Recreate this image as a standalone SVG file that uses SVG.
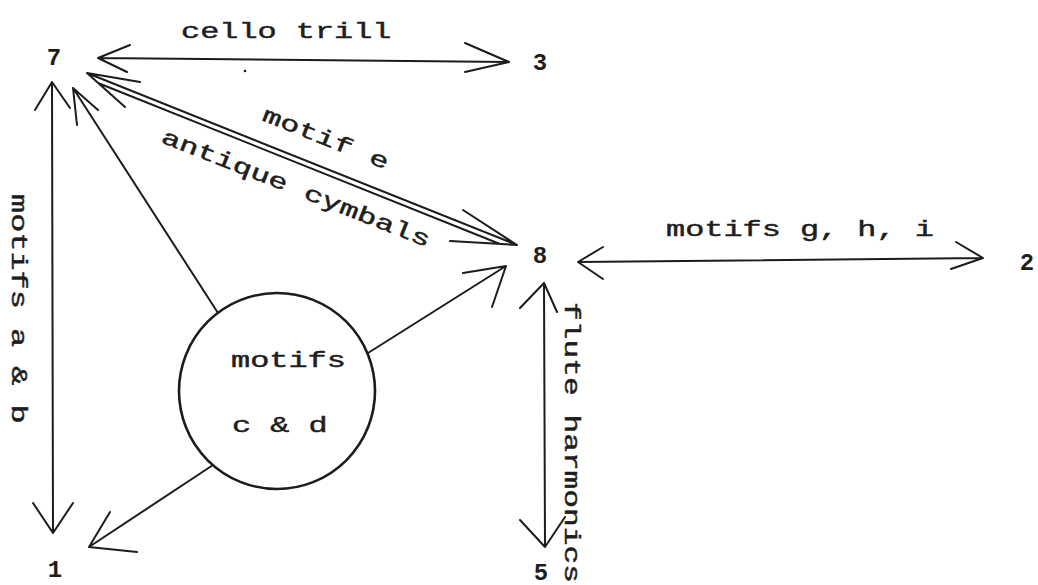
<svg xmlns="http://www.w3.org/2000/svg" width="1038" height="585" viewBox="0 0 1038 585">
  <style>
    .bg { fill: #ffffff; }
    .ln { fill: none; stroke: #1c1c1c; stroke-width: 2; stroke-linecap: round; stroke-linejoin: round; }
    .ring { fill: #ffffff; stroke: #1c1c1c; stroke-width: 2.6; }
    .lbl { font-family: "Liberation Mono", "DejaVu Sans Mono", monospace; font-size: 22px; fill: #1e1e1e; stroke: #1e1e1e; stroke-width: 0.45; }
    .num { font-family: "Liberation Mono", "DejaVu Sans Mono", monospace; font-size: 24px; font-weight: bold; fill: #1e1e1e; text-anchor: middle; }
  </style>
  <rect class="bg" x="0" y="0" width="1038" height="585"/>

  <!-- arrows between the numbered sections -->
  <g id="connectors">
    <!-- 7 <-> 3 : cello trill -->
    <path class="ln" d="M98,58 L509,62 M130,45 L98,58 L127,72 M465,43 L509,62 L465,72"/>
    <circle cx="245" cy="71" r="1.3" fill="#1c1c1c"/>
    <!-- 7 <-> 8 : double shaft -->
    <path class="ln" d="M87,73 L517,245 M98,83 L500,244 M140,82 L87,73 L125,107 M463,210 L517,245 L450,241"/>
    <!-- 7 <-> 1 : motifs a & b -->
    <path class="ln" d="M52,82 L53,533 M35,110 L52,82 L70,108 M33,503 L53,533 L73,503"/>
    <!-- circle -> 7 -->
    <path class="ln" d="M218,313 L73,88 M77,125 L73,88 L98,110"/>
    <!-- circle -> 8 -->
    <path class="ln" d="M368,353 L506,266 M463,273 L506,266 L492,307"/>
    <!-- circle -> 1 -->
    <path class="ln" d="M213,465 L89,547 M110,512 L89,547 L137,552"/>
    <!-- 8 <-> 2 : motifs g, h, i -->
    <path class="ln" d="M578,262 L983,258 M603,247 L578,262 L603,279 M956,242 L983,258 L951,269"/>
    <!-- 8 <-> 5 : flute harmonics -->
    <path class="ln" d="M544,283 L545,547 M520,308 L544,283 L557,312 M520,520 L545,547 L565,517"/>
  </g>

  <!-- numbered sections -->
  <g id="n7"><text class="num" x="54" y="65">7</text></g>
  <g id="n3"><text class="num" x="540" y="70">3</text></g>
  <g id="n8"><text class="num" x="540" y="263">8</text></g>
  <g id="n2"><text class="num" x="1027" y="270">2</text></g>
  <g id="n1"><text class="num" x="55" y="577">1</text></g>
  <g id="n5"><text class="num" x="541" y="580">5</text></g>

  <!-- central motif circle -->
  <g id="motifs-cd">
    <circle class="ring" cx="277" cy="391" r="98"/>
    <text class="lbl" transform="translate(231,367) scale(1.45,1)">motifs</text>
    <text class="lbl" transform="translate(232,432) scale(1.45,1)">c &amp; d</text>
  </g>

  <!-- connector labels -->
  <g id="labels">
    <text class="lbl" transform="translate(181,38) scale(1.45,1)">cello trill</text>
    <text class="lbl" transform="translate(261,120) rotate(21.7) scale(1.45,1)">motif e</text>
    <text class="lbl" transform="translate(160,142) rotate(21.5) scale(1.45,1)">antique cymbals</text>
    <text class="lbl" transform="translate(666,236) scale(1.45,1)">motifs g, h, i</text>
    <text class="lbl" transform="translate(12,194) rotate(90) scale(1.45,1)">motifs a &amp; b</text>
    <text class="lbl" transform="translate(565,302) rotate(90) scale(1.42,1)">flute harmonics</text>
  </g>
</svg>
